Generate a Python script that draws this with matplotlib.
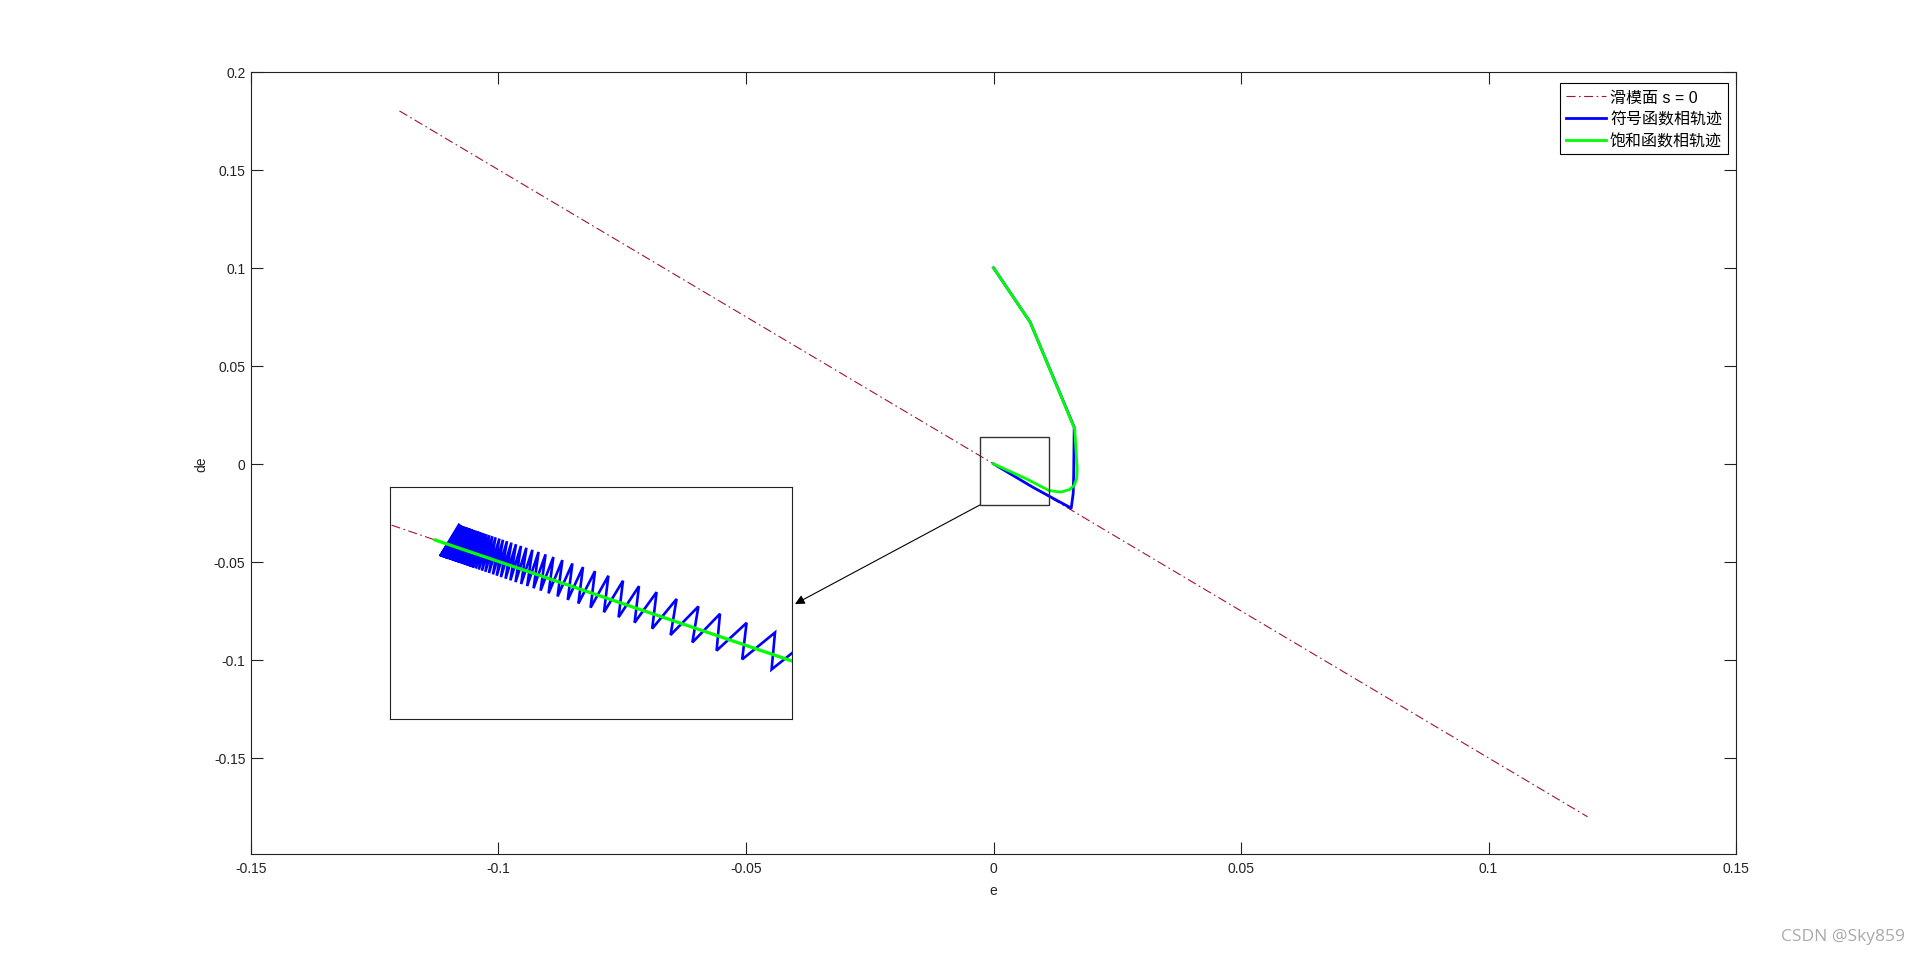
import numpy as np
import matplotlib
matplotlib.use('Agg')
import matplotlib.pyplot as plt
from matplotlib.patches import Rectangle

plt.rcParams['font.family'] = ['Liberation Sans', 'Noto Sans CJK SC', 'DejaVu Sans']
plt.rcParams['lines.scale_dashes'] = False

# ---------------- data ----------------
labels = ['滑模面 s = 0', '符号函数相轨迹', '饱和函数相轨迹']

# sliding surface  s = c*e + de = 0
surf_e = [-0.12, 0.12]
surf_de = [0.18, -0.18]

# sign-function phase trajectory (main scale)
sign_e = [0.0, 0.0074, 0.0163, 0.0162, 0.0161, 0.0157, 0.0080, 0.0]
sign_de = [0.1, 0.0723, 0.0187, -0.0050, -0.0150, -0.0226, -0.0120, 0.0]

# saturation-function phase trajectory (main scale)
sat_e = [0.0, 0.0074, 0.0164, 0.0169, 0.0168, 0.0163, 0.0153, 0.0135, 0.0112, 0.0067, 0.0]
sat_de = [0.1, 0.0723, 0.0178, -0.0025, -0.0075, -0.0110, -0.0132, -0.0144, -0.0136, -0.0077, 0.0]

# zoomed region marked on the main plot
box_e = [-0.0027, 0.0112]
box_de = [-0.0209, 0.0135]

# inset (units of 1e-4): chattering of the sign-function trajectory
inset_xlim = [-2.25, 17.85]
inset_ylim = [-39.38, 11.66]
start_e, start_de = 18.50, -22.62
peak_e = [17.00, 15.58, 14.25, 13.17, 12.08, 11.08, 10.20, 9.40, 8.67, 8.00,
          7.40, 6.87, 6.37, 5.92, 5.53, 5.18, 4.87, 4.57, 4.30, 4.05,
          3.82, 3.60, 3.40, 3.22, 3.03, 2.87, 2.72, 2.58, 2.45, 2.33,
          2.22, 2.12, 2.02, 1.92, 1.82, 1.73, 1.65, 1.57, 1.48, 1.40,
          1.33, 1.27, 1.20]
peak_de = [-20.37, -18.24, -16.25, -14.63, -12.99, -11.49, -10.17, -8.97, -7.88, -6.87,
           -5.97, -5.18, -4.43, -3.75, -3.17, -2.64, -2.18, -1.73, -1.32, -0.95,
           -0.60, -0.27, 0.03, 0.30, 0.58, 0.82, 1.05, 1.26, 1.45, 1.63,
           1.80, 1.95, 2.10, 2.25, 2.40, 2.53, 2.65, 2.77, 2.91, 3.03,
           3.13, 3.22, 3.33]
trough_e = [16.83, 15.36, 14.08, 12.87, 11.78, 10.86, 9.98, 9.18, 8.45, 7.78,
            7.17, 6.64, 6.13, 5.68, 5.28, 4.93, 4.61, 4.31, 4.03, 3.77,
            3.53, 3.30, 3.09, 2.90, 2.70, 2.52, 2.35, 2.19, 2.04, 1.89,
            1.75, 1.62, 1.49, 1.35, 1.21, 1.08, 0.96, 0.84, 0.71, 0.59,
            0.48, 0.37, 0.25]
trough_de = [-28.48, -26.27, -24.35, -22.54, -20.90, -19.52, -18.20, -17.00, -15.91, -14.90,
             -13.99, -13.19, -12.43, -11.75, -11.15, -10.63, -10.15, -9.70, -9.28, -8.89,
             -8.53, -8.18, -7.87, -7.58, -7.28, -7.01, -6.76, -6.52, -6.29, -6.07,
             -5.86, -5.66, -5.47, -5.26, -5.05, -4.85, -4.67, -4.49, -4.30, -4.12,
             -3.95, -3.79, -3.61]
inset_sat_e = [0.0, 18.5]
inset_sat_de = [0.0, -27.6]
inset_surf_e = [-3.0, 19.0]
inset_surf_de = [4.5, -28.5]

xticks = [-0.15, -0.1, -0.05, 0, 0.05, 0.1, 0.15]
xticklabels = ['-0.15', '-0.1', '-0.05', '0', '0.05', '0.1', '0.15']
yticks = [-0.15, -0.1, -0.05, 0, 0.05, 0.1, 0.15, 0.2]
yticklabels = ['-0.15', '-0.1', '-0.05', '0', '0.05', '0.1', '0.15', '0.2']

RED = '#A2142F'
BLUE = '#0000FF'
GREEN = '#00FF00'
dashdot = (0, (6.5, 2.5, 1.2, 2.5))

# ---------------- figure ----------------
fig = plt.figure(figsize=(19.2, 9.62), dpi=100)
ax = fig.add_axes([0.1307, 0.1112, 0.7735, 0.8132])

l1, = ax.plot(surf_e, surf_de, color=RED, lw=0.8, ls=dashdot, zorder=2)
l2, = ax.plot(sign_e, sign_de, color=BLUE, lw=2.0, zorder=3, solid_joinstyle='round')
l3, = ax.plot(sat_e, sat_de, color=GREEN, lw=2.0, zorder=4, solid_joinstyle='round')

ax.set_xlim(-0.15, 0.15)
ax.set_ylim(-0.199, 0.2)
ax.set_xticks(xticks)
ax.set_xticklabels(xticklabels)
ax.set_yticks(yticks)
ax.set_yticklabels(yticklabels)
ax.tick_params(direction='in', length=8.5, width=0.8, top=True, right=True,
               labelsize=10, colors='#222222')
ax.tick_params(axis='x', pad=5)
ax.tick_params(axis='y', pad=4)
for sp in ax.spines.values():
    sp.set_linewidth(0.8)
    sp.set_color('#222222')
ax.set_xlabel('e', fontsize=10, labelpad=6, color='#222222')
ax.set_ylabel('de', fontsize=10, labelpad=4, color='#222222')

leg = ax.legend([l1, l2, l3], labels, loc='upper right',
                bbox_to_anchor=(0.9946, 0.985), borderaxespad=0,
                fontsize=11.5, fancybox=False, framealpha=1, edgecolor='black',
                handlelength=2.5, handletextpad=0.25, labelspacing=0.42,
                borderpad=0.38)
leg.get_frame().set_linewidth(0.8)

rect = Rectangle((box_e[0], box_de[0]), box_e[1] - box_e[0], box_de[1] - box_de[0],
                 fill=False, ec='#333333', lw=1.0, zorder=5)
ax.add_patch(rect)

ax.annotate('', xy=(795 / 1920, 1 - 605 / 962), xycoords='figure fraction',
            xytext=(box_e[0], box_de[0]), textcoords='data',
            arrowprops=dict(arrowstyle='-|>', color='black', lw=0.8,
                            mutation_scale=14, shrinkA=0, shrinkB=0))

# ---------------- inset ----------------
axin = fig.add_axes([0.2031, 0.2516, 0.2094, 0.2412])
scale = 1e-4
path_e = [start_e]
path_de = [start_de]
for te, td, pe, pd in zip(trough_e, trough_de, peak_e, peak_de):
    path_e += [te, pe]
    path_de += [td, pd]
axin.plot(np.array(inset_surf_e) * scale, np.array(inset_surf_de) * scale,
          color=RED, lw=0.8, ls=dashdot, zorder=1)
axin.plot(np.array(path_e) * scale, np.array(path_de) * scale,
          color=BLUE, lw=1.9, zorder=2, solid_joinstyle='miter')
axin.plot(np.array(inset_sat_e) * scale, np.array(inset_sat_de) * scale,
          color=GREEN, lw=2.3, zorder=3)
axin.set_xlim(inset_xlim[0] * scale, inset_xlim[1] * scale)
axin.set_ylim(inset_ylim[0] * scale, inset_ylim[1] * scale)
axin.set_xticks([])
axin.set_yticks([])
for sp in axin.spines.values():
    sp.set_linewidth(0.8)
    sp.set_color('#222222')

fig.text(0.992, 0.026, 'CSDN @Sky859', ha='right', va='center',
         fontsize=12.5, color='#aaaaaa', family=['Open Sans', 'DejaVu Sans'])

fig.savefig('out.png', dpi=100)
